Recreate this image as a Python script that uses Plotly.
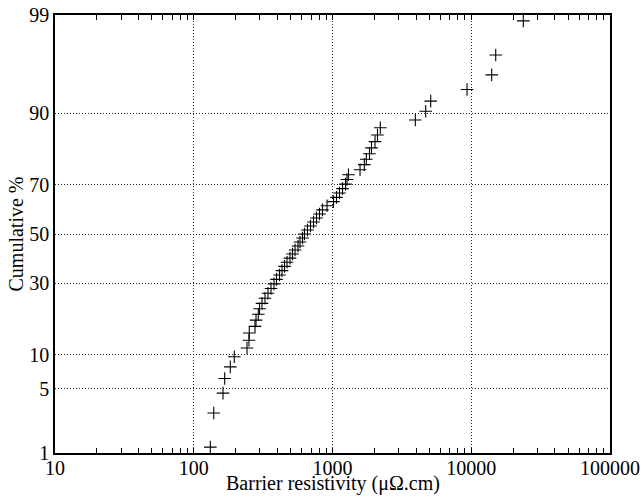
import plotly.graph_objects as go
from statistics import NormalDist

# Barrier resistivity values (µΩ.cm), sorted
resistivity = [131.6, 139.3, 162.5, 167.1, 183.4, 196.0, 242, 250, 251.3, 276.4,
               281, 291.9, 297.8, 310.4, 326.2, 342.8, 360.4, 378.8, 394.8, 415,
               432.5, 451, 470, 494, 515, 537, 564, 583, 608, 628,
               660, 694, 730, 767, 806, 847, 913, 1017, 1069, 1123,
               1181, 1241, 1272, 1304, 1579, 1695, 1752, 1848, 1910, 2025,
               2110, 2211, 3953, 4696, 5104, 9320, 14040, 15010, 23720]

# Cumulative percentage of each point
cumulative_pct = [1.18, 2.86, 4.55, 6.23, 7.91, 9.60, 11.28, 12.96, 14.65, 16.33,
                  18.01, 19.70, 21.38, 23.06, 24.75, 26.43, 28.11, 29.80, 31.48, 33.16,
                  34.85, 36.53, 38.22, 39.90, 41.58, 43.27, 44.95, 46.63, 48.32, 50.00,
                  51.68, 53.37, 55.05, 56.73, 58.42, 60.10, 61.78, 63.47, 65.15, 66.84,
                  68.52, 70.20, 71.89, 73.57, 75.25, 76.94, 78.62, 80.30, 81.99, 83.67,
                  85.35, 87.04, 88.72, 90.40, 92.09, 93.77, 95.45, 97.14, 98.82]

y_ticks_pct = [1, 5, 10, 30, 50, 70, 90, 99]
x_ticks = [10, 100, 1000, 10000, 100000]
x_tick_labels = ["10", "100", "1000", "10000", "100000"]
x_minor_ticks = [m * d for d in [10, 100, 1000, 10000] for m in range(2, 10)]

x_title = "Barrier resistivity (μΩ.cm)"
y_title = "Cumulative %"

nd = NormalDist()
def probit(p):
    return nd.inv_cdf(p / 100.0)

y_vals = [probit(p) for p in cumulative_pct]

fig = go.Figure()
fig.add_trace(go.Scatter(
    x=resistivity, y=y_vals, mode="markers",
    marker=dict(symbol="cross-thin", size=9, color="black",
                line=dict(color="black", width=1.1)),
    showlegend=False,
))

font = dict(family="Liberation Serif, Times New Roman, serif", size=20, color="black")
title_font = dict(family="Liberation Serif, Times New Roman, serif", size=20, color="black")

fig.update_layout(
    width=642, height=498,
    margin=dict(l=55, r=32, t=15, b=45),
    paper_bgcolor="white", plot_bgcolor="white",
    font=font,
)
fig.update_xaxes(
    type="log", range=[1, 5], automargin=False,
    tickmode="array", tickvals=x_ticks, ticktext=x_tick_labels,
    ticks="inside", ticklen=5, tickcolor="black",
    ticklabelstandoff=-4,
    showline=True, linecolor="black", linewidth=1.5, mirror="ticks",
    showgrid=True, gridcolor="#222", griddash="1px,2px", gridwidth=1,
    minor=dict(ticks="inside", ticklen=5, tickcolor="black",
               tickmode="array", tickvals=x_minor_ticks, showgrid=False),
    zeroline=False,
    tickfont=font,
)
fig.update_yaxes(
    range=[probit(1), probit(99)], automargin=False,
    tickmode="array",
    tickvals=[probit(p) for p in y_ticks_pct],
    ticktext=[str(p) for p in y_ticks_pct],
    ticks="", showline=True, linecolor="black", linewidth=1.5, mirror=True,
    showgrid=True, gridcolor="#222", griddash="1px,2px", gridwidth=1,
    zeroline=False,
    title=dict(text=y_title, standoff=0, font=title_font),
    tickfont=font,
)
fig.add_annotation(
    text=x_title, xref="paper", yref="paper", x=0.5, y=0,
    xanchor="center", yanchor="bottom", yshift=-44, showarrow=False,
    font=title_font,
)

fig.write_html("out.html", config={"displayModeBar": False},
               post_script="document.body.style.margin='0px';document.body.style.overflow='hidden';")
